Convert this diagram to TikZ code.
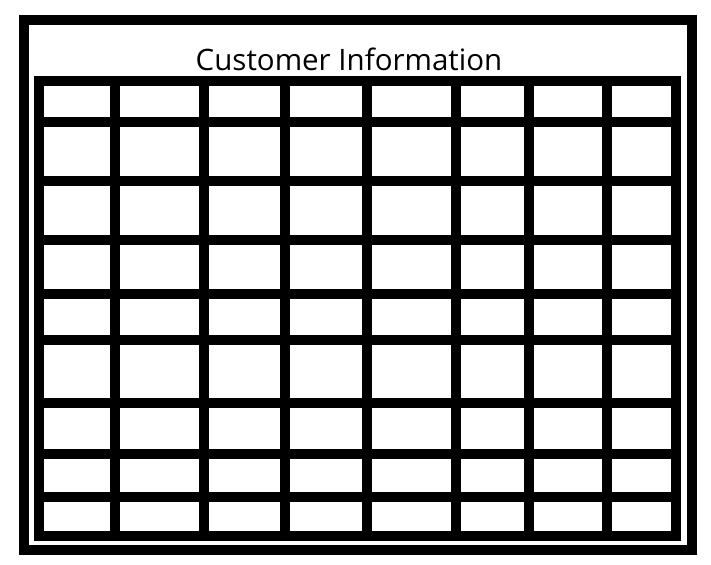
\documentclass[tikz,border=0pt]{standalone}
\usepackage{fontspec}
\setmainfont{Open Sans}
\begin{document}
\begin{tikzpicture}[x=1pt,y=-1pt,
  frame/.style={draw=black,line width=10pt},
  gridline/.style={draw=black,line width=10pt},
  title/.style={font=\fontsize{29.5}{32}\selectfont,inner sep=0pt,anchor=base}]
\useasboundingbox (0,0) rectangle (711,564);
\draw[frame] (24,20) rectangle (692,550);
\node[title] (t) at (349,70.5) {Customer Information};
% horizontal lines
\foreach \y in {122,181,240,294,340,403,454,497}
  \draw[gridline] (39,\y) -- (676,\y);
% vertical lines
\foreach \x in {115,204,285,367,456,529,607}
  \draw[gridline] (\x,81) -- (\x,536);
\draw[frame] (39,81) rectangle (676,536);
\end{tikzpicture}
\end{document}
